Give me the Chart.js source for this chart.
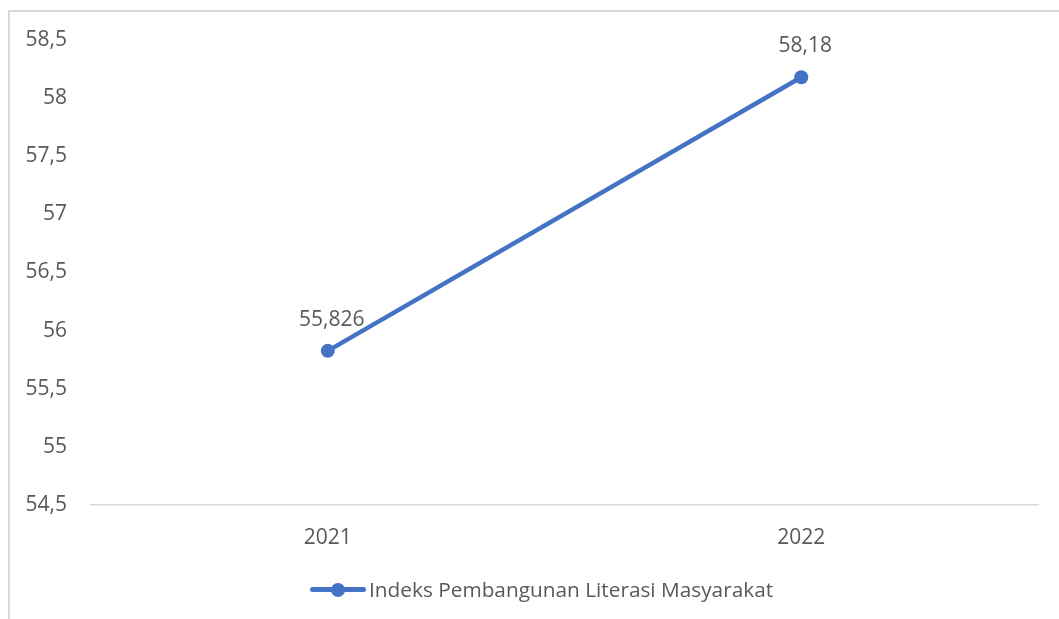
<!DOCTYPE html>
<html>
<head>
<meta charset="utf-8">
<script src="https://cdn.jsdelivr.net/npm/chart.js@4"></script>
<style>
  html, body { margin: 0; padding: 0; background: #fff; }
  #wrap { position: relative; width: 1059px; height: 619px; overflow: hidden; }
  #frame {
    position: absolute; left: 8px; top: 10px; width: 1200px; height: 800px;
    border: 2px solid #d9d9d9; box-sizing: border-box;
  }
  #chart { position: absolute; left: 0; top: 0; }
  #legend {
    position: absolute; left: 310px; top: 576px; height: 26px;
    display: flex; align-items: center;
    font-family: "Open Sans", sans-serif; font-size: 20.8px; color: #595959;
  }
  #legend .mark { position: relative; width: 56px; height: 26px; margin-right: 3px; }
  #legend .mark .ln {
    position: absolute; left: 0; right: 0; top: 11px; height: 5px;
    background: #4472c4; border-radius: 3px;
  }
  #legend .mark .dot {
    position: absolute; left: 21px; top: 7px; width: 14px; height: 14px;
    background: #4472c4; border-radius: 50%;
  }
</style>
</head>
<body>
<div id="wrap">
  <div id="frame"></div>
  <canvas id="chart" width="1059" height="619"></canvas>
  <div id="legend"><span class="mark"><span class="ln"></span><span class="dot"></span></span><span id="legendText"></span></div>
</div>
<script>
  // chart data
  const years = ["2021", "2022"];
  const indexValues = [55.826, 58.18];
  const valueLabels = ["55,826", "58,18"];
  const seriesName = "Indeks Pembangunan Literasi Masyarakat";

  const blue = "#4472c4";
  const textColor = "#595959";
  const fontFamily = '"Open Sans", sans-serif';

  document.getElementById("legendText").textContent = seriesName;

  // draws the value above each point, comma decimals like the source
  const pointLabels = {
    id: "pointLabels",
    afterDatasetsDraw(chart) {
      const { ctx } = chart;
      const meta = chart.getDatasetMeta(0);
      ctx.save();
      ctx.font = `21px ${fontFamily}`;
      ctx.fillStyle = textColor;
      ctx.textAlign = "center";
      ctx.textBaseline = "middle";
      meta.data.forEach((pt, i) => {
        ctx.fillText(valueLabels[i], pt.x + 4, pt.y - 31);
      });
      ctx.restore();
    },
  };

  new Chart(document.getElementById("chart"), {
    type: "line",
    data: {
      labels: years,
      datasets: [
        {
          label: seriesName,
          data: indexValues,
          borderColor: blue,
          backgroundColor: blue,
          borderWidth: 4.5,
          pointRadius: 7,
          pointHoverRadius: 7,
          pointBackgroundColor: blue,
          pointBorderWidth: 0,
          tension: 0,
        },
      ],
    },
    options: {
      responsive: false,
      animation: false,
      layout: { padding: { left: 0, top: 40, right: 21, bottom: 64 } },
      plugins: {
        legend: { display: false },
        tooltip: { enabled: false },
      },
      scales: {
        x: {
          offset: true,
          grid: { display: false, drawTicks: false },
          border: { display: true, color: "#d9d9d9", width: 1.5 },
          ticks: {
            color: textColor,
            font: { family: fontFamily, size: 21 },
            padding: 20,
          },
          afterFit(scale) {
            scale.height = 50;
          },
        },
        y: {
          min: 54.5,
          max: 58.5,
          grid: { display: false, drawTicks: false },
          border: { display: false },
          ticks: {
            stepSize: 0.5,
            color: textColor,
            font: { family: fontFamily, size: 21 },
            padding: 24,
            callback: (v) => String(v).replace(".", ","),
          },
          afterFit(scale) {
            scale.width = 91;
          },
        },
      },
    },
    plugins: [pointLabels],
  });
</script>
</body>
</html>
